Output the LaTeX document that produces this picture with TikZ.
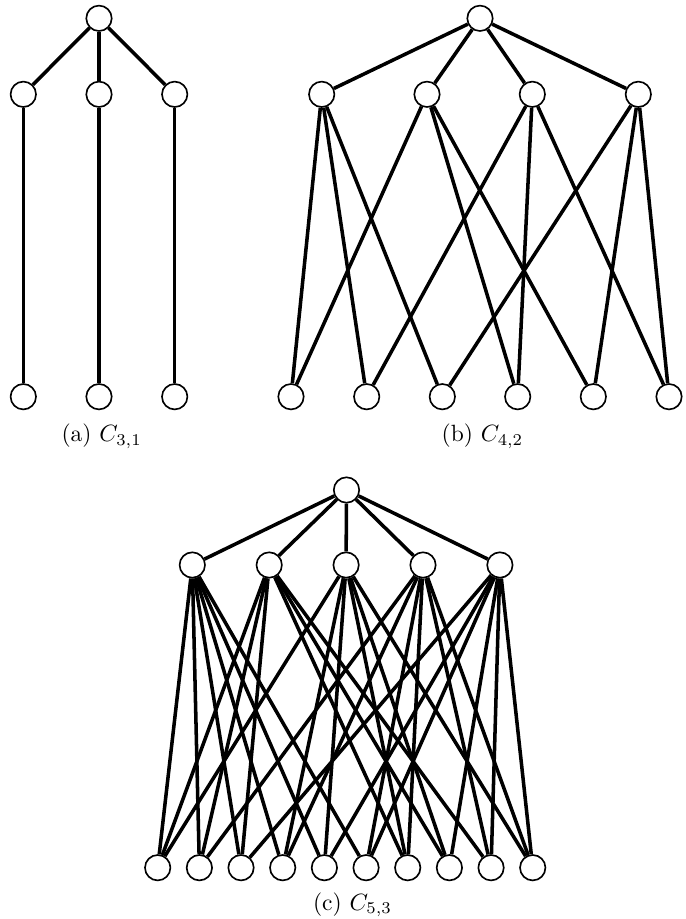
\documentclass[tikz,border=0pt]{standalone}
\begin{document}
\begin{tikzpicture}[x=0.425pt,y=-0.425pt,
  vtx/.style={circle,draw,line width=0.7pt,fill=white,minimum size=10.8pt,inner sep=0pt},
  edge/.style={line width=1.5pt},
  capt/.style={anchor=base,inner sep=0pt,font=\normalsize}]
\useasboundingbox (0,0) rectangle (686,919);

% ---------- (a) C_{3,1}
\node[vtx] (ar) at (99,18.3) {};
\foreach \i/\x in {1/23.3,2/99,3/174.7} {
  \node[vtx] (am\i) at (\x,94.3) {};
  \node[vtx] (al\i) at (\x,396.7) {};
}
\foreach \i in {1,2,3} {
  \draw[edge] (ar) -- (am\i);
  \draw[edge] (am\i) -- (al\i);
}
\node[capt] (capa) at (101.7,441.7) {(a) $C_{3,1}$};

% ---------- (b) C_{4,2}
\node[vtx] (br) at (480,18.3) {};
\foreach \i/\x in {1/321.7,2/427,3/532.3,4/638.3} {
  \node[vtx] (bm\i) at (\x,94.3) {};
}
\foreach \i/\x in {1/291,2/366.7,3/442.3,4/517.7,5/593.3,6/669} {
  \node[vtx] (bl\i) at (\x,396.7) {};
}
\foreach \i in {1,...,4} \draw[edge] (br) -- (bm\i);
\foreach \m/\l in {1/1,1/2,1/3,2/1,2/4,2/5,3/2,3/4,3/6,4/3,4/5,4/6}
  \draw[edge] (bm\m) -- (bl\l);
\node[capt] (capb) at (482.5,441.7) {(b) $C_{4,2}$};

% ---------- (c) C_{5,3}
\node[vtx] (cr) at (346.5,490) {};
\foreach \i in {1,...,5} {
  \node[vtx] (cm\i) at ({192.3+76.9*(\i-1)},565) {};
}
\foreach \i in {1,...,10} {
  \node[vtx] (cl\i) at ({157.7+41.67*(\i-1)},867.7) {};
}
\foreach \i in {1,...,5} \draw[edge] (cr) -- (cm\i);
\foreach \m/\l in {1/1,1/2,1/3,1/4,1/5,1/6,
                   2/1,2/2,2/3,2/7,2/8,2/9,
                   3/1,3/4,3/5,3/7,3/8,3/10,
                   4/2,4/4,4/6,4/7,4/9,4/10,
                   5/3,5/5,5/6,5/8,5/9,5/10}
  \draw[edge] (cm\m) -- (cl\l);
\node[capt] (capc) at (352.5,910) {(c) $C_{5,3}$};
\end{tikzpicture}
\end{document}
